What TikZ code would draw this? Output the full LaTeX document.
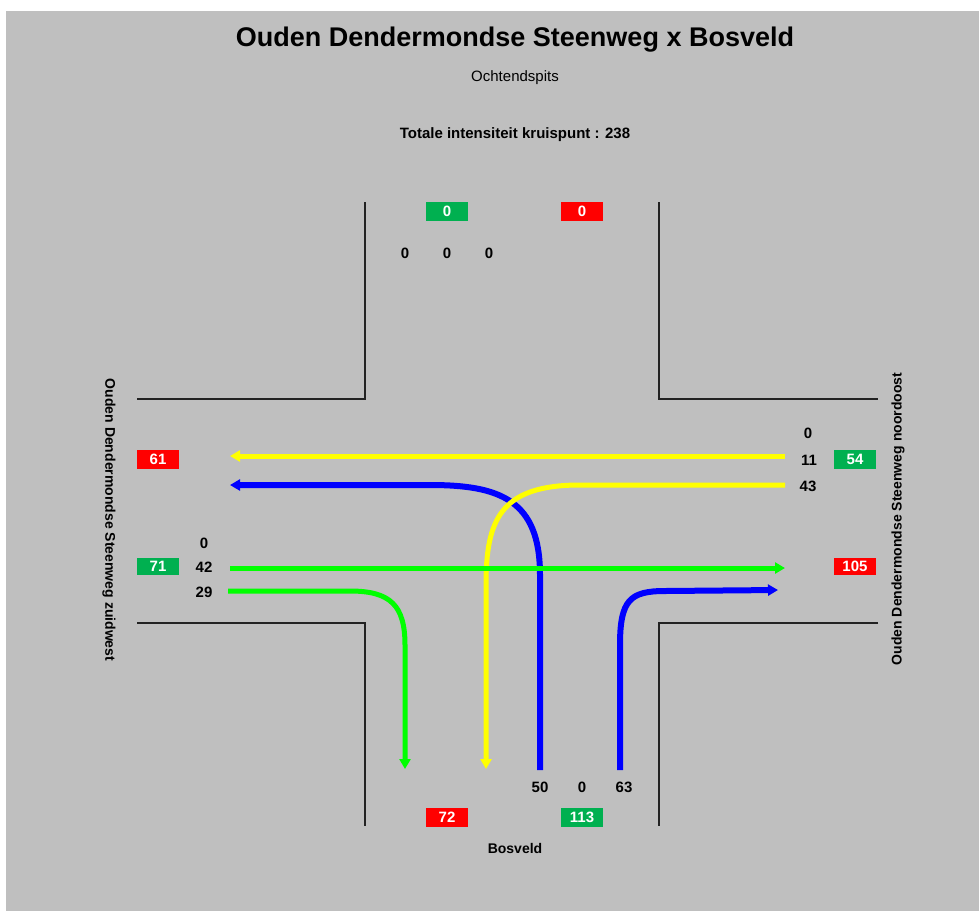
\documentclass[tikz,border=0pt]{standalone}
\usepackage{fontspec}
\setmainfont{Liberation Sans}
\usepackage{xcolor}
\usetikzlibrary{arrows.meta}

\definecolor{bggray}{HTML}{BFBFBF}
\definecolor{boxred}{HTML}{FF0000}
\definecolor{boxgreen}{HTML}{00B050}
\definecolor{flowyellow}{HTML}{FFFF00}
\definecolor{flowblue}{HTML}{0000FF}
\definecolor{flowgreen}{HTML}{00FF00}
\definecolor{roadline}{HTML}{222222}

\tikzset{
    countbox/.style={minimum width=42pt, minimum height=19pt, inner sep=0pt, text=white, font=\fontsize{15}{18}\selectfont\bfseries},
    inbox/.style={countbox, fill=boxgreen},
    outbox/.style={countbox, fill=boxred},
    count/.style={inner sep=0pt, font=\fontsize{15}{18}\selectfont\bfseries},
    street/.style={inner sep=0pt, font=\fontsize{14}{17}\selectfont\bfseries},
    road/.style={roadline, line width=1.3pt},
    flow/.style={line width=5pt, -{Triangle[length=10pt,width=11pt]}},
}

\begin{document}
\begin{tikzpicture}[x=1pt, y=-1pt]
    % Background
    \fill[white] (0,0) rectangle (979,911);
    \fill[bggray] (6,11) rectangle (979,911);
    \useasboundingbox (0,0) rectangle (979,911);

    % Titles
    \node[inner sep=0pt, font=\fontsize{27}{32}\selectfont\bfseries] (title) at (515,40) {Ouden Dendermondse Steenweg x Bosveld};
    \node[inner sep=0pt, font=\fontsize{15}{18}\selectfont] (period) at (515,78) {Ochtendspits};
    \node[count] (total) at (515,135) {Totale intensiteit kruispunt : 238};

    % Road edges
    \draw[road] (365,202) -- (365,399) -- (137,399);
    \draw[road] (659,202) -- (659,399) -- (878,399);
    \draw[road] (137,623) -- (365,623) -- (365,826);
    \draw[road] (878,623) -- (659,623) -- (659,826);

    % Street names
    \node[street, rotate=-90] (nameW) at (109,520) {Ouden Dendermondse Steenweg zuidwest};
    \node[street, rotate=90] (nameE) at (898,519) {Ouden Dendermondse Steenweg noordoost};
    \node[street] (nameS) at (515,848) {Bosveld};

    % North leg
    \node[inbox] (inN) at (447,211) {0};
    \node[outbox] (outN) at (582,211) {0};
    \node[count] (nL) at (405,253) {0};
    \node[count] (nT) at (447,253) {0};
    \node[count] (nR) at (489,253) {0};

    % South leg
    \node[outbox] (outS) at (447,817) {72};
    \node[inbox] (inS) at (582,817) {113};
    \node[count] (sLn) at (540,787) {50};
    \node[count] (sTn) at (582,787) {0};
    \node[count] (sRn) at (624,787) {63};

    % West leg
    \node[outbox] (outW) at (158,459) {61};
    \node[inbox, minimum height=17pt] (inW) at (158,566) {71};
    \node[count] (wLn) at (204,543) {0};
    \node[count] (wTn) at (204,567) {42};
    \node[count] (wRn) at (204,592) {29};

    % East leg
    \node[inbox] (inE) at (855,459) {54};
    \node[outbox, minimum height=17pt] (outE) at (855,566) {105};
    \node[count] (eLn) at (808,433) {0};
    \node[count] (eTn) at (809,460) {11};
    \node[count] (eRn) at (808,486) {43};

    % Flow ends
    \coordinate (eT) at (785,456);
    \coordinate (eR) at (785,485);
    \coordinate (wT) at (230,568);
    \coordinate (wR) at (228,591);
    \coordinate (sL) at (540,770);
    \coordinate (sR) at (620,770);
    \coordinate (wOut1) at (230,456);
    \coordinate (wOut2) at (230,485);
    \coordinate (eOut1) at (785,568);
    \coordinate (eOut2) at (778,590);
    \coordinate (sOut1) at (405,769);
    \coordinate (sOut2) at (486,769);

    % Flows
    \draw[flow, flowyellow] (eT) -- (wOut1);
    \draw[flow, flowblue, line width=6pt] (sL) -- (540,575) .. controls (540,500) and (500,485) .. (430,485) -- (wOut2);
    \draw[flow, flowyellow] (eR) -- (580,485) .. controls (500,485) and (486,520) .. (486,585) -- (sOut2);
    \draw[flow, flowgreen] (wT) -- (eOut1);
    \draw[flow, flowgreen] (wR) -- (350,591) .. controls (390,591) and (405,605) .. (405,645) -- (sOut1);
    \draw[flow, flowblue, line width=6pt] (sR) -- (620,645) .. controls (620,600) and (630,591) .. (665,591) -- (eOut2);
\end{tikzpicture}
\end{document}
